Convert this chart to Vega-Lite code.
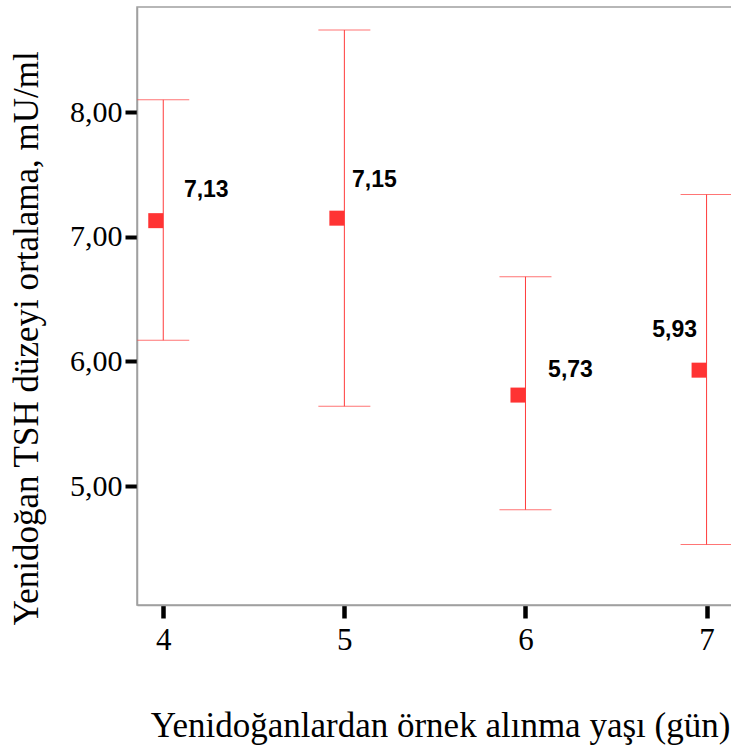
{
  "$schema": "https://vega.github.io/schema/vega-lite/v6.json",
  "autosize": {"type": "none"},
  "padding": {"left": 137, "top": 7, "right": 0, "bottom": 146},
  "width": 600,
  "height": 598,
  "background": "white",
  "config": {
    "view": {"stroke": "#a0a0a0", "strokeWidth": 1.5},
    "axis": {"grid": false}
  },
  "data": {
    "values": [
      {"day": 4, "mean": 7.13, "lower": 6.17, "upper": 8.10, "label": "7,13"},
      {"day": 5, "mean": 7.15, "lower": 5.64, "upper": 8.66, "label": "7,15"},
      {"day": 6, "mean": 5.73, "lower": 4.81, "upper": 6.68, "label": "5,73"},
      {"day": 7, "mean": 5.93, "lower": 4.53, "upper": 7.34, "label": "5,93"}
    ]
  },
  "encoding": {
    "x": {
      "field": "day",
      "type": "quantitative",
      "scale": {"domain": [3.855, 7.168], "nice": false, "zero": false},
      "axis": {
        "values": [4, 5, 6, 7],
        "format": "d",
        "title": "Yenidoğanlardan örnek alınma yaşı (gün)",
        "domainColor": "#a0a0a0",
        "domainWidth": 1.5,
        "tickColor": "black",
        "tickWidth": 4.5,
        "tickSize": 13,
        "labelFont": "Liberation Serif",
        "labelFontSize": 31,
        "labelColor": "black",
        "labelPadding": 7,
        "labelFlush": false,
        "titleFont": "Liberation Serif",
        "titleFontSize": 35,
        "titleFontWeight": "normal",
        "titleColor": "black",
        "titleX": 303,
        "titleY": 131,
        "titleAlign": "center",
        "titleBaseline": "alphabetic",
        "titleAnchor": null
      }
    }
  },
  "layer": [
    {
      "mark": {"type": "rule", "color": "#ff3b3b", "strokeWidth": 1},
      "encoding": {
        "y": {
          "field": "lower",
          "type": "quantitative",
          "scale": {"domain": [4.045, 8.845], "nice": false, "zero": false},
          "axis": {
            "values": [5, 6, 7, 8],
            "labelExpr": "replace(format(datum.value, '.2f'), '.', ',')",
            "title": "Yenidoğan TSH düzeyi ortalama, mU/ml",
            "domainColor": "#a0a0a0",
            "domainWidth": 1.5,
            "tickColor": "black",
            "tickWidth": 4,
            "tickSize": 12,
            "labelFont": "Liberation Serif",
            "labelFontSize": 30,
            "labelColor": "black",
            "labelPadding": 3,
            "labelFlush": false,
            "titleFont": "Liberation Serif",
            "titleFontSize": 35,
            "titleFontWeight": "normal",
            "titleColor": "black",
            "titleX": -100,
            "titleY": 331,
            "titleAngle": -90,
            "titleAlign": "center",
            "titleBaseline": "alphabetic",
            "titleAnchor": null
          }
        },
        "y2": {"field": "upper"}
      }
    },
    {
      "mark": {"type": "tick", "orient": "horizontal", "color": "#ff3b3b", "size": 52, "thickness": 1},
      "encoding": {"y": {"field": "upper", "type": "quantitative"}}
    },
    {
      "mark": {"type": "tick", "orient": "horizontal", "color": "#ff3b3b", "size": 52, "thickness": 1},
      "encoding": {"y": {"field": "lower", "type": "quantitative"}}
    },
    {
      "mark": {"type": "square", "filled": true, "color": "#ff3333", "size": 225, "opacity": 1, "xOffset": -7.5},
      "encoding": {"y": {"field": "mean", "type": "quantitative"}}
    },
    {
      "transform": [{"filter": "datum.day == 4"}],
      "mark": {"type": "text", "font": "Liberation Sans", "fontWeight": "bold", "fontSize": 23, "color": "black", "dx": 43, "dy": -31, "align": "center", "baseline": "middle"},
      "encoding": {"y": {"field": "mean", "type": "quantitative"}, "text": {"field": "label"}}
    },
    {
      "transform": [{"filter": "datum.day == 5"}],
      "mark": {"type": "text", "font": "Liberation Sans", "fontWeight": "bold", "fontSize": 23, "color": "black", "dx": 30, "dy": -38, "align": "center", "baseline": "middle"},
      "encoding": {"y": {"field": "mean", "type": "quantitative"}, "text": {"field": "label"}}
    },
    {
      "transform": [{"filter": "datum.day == 6"}],
      "mark": {"type": "text", "font": "Liberation Sans", "fontWeight": "bold", "fontSize": 23, "color": "black", "dx": 45, "dy": -25, "align": "center", "baseline": "middle"},
      "encoding": {"y": {"field": "mean", "type": "quantitative"}, "text": {"field": "label"}}
    },
    {
      "transform": [{"filter": "datum.day == 7"}],
      "mark": {"type": "text", "font": "Liberation Sans", "fontWeight": "bold", "fontSize": 23, "color": "black", "dx": -32, "dy": -40, "align": "center", "baseline": "middle"},
      "encoding": {"y": {"field": "mean", "type": "quantitative"}, "text": {"field": "label"}}
    }
  ]
}
